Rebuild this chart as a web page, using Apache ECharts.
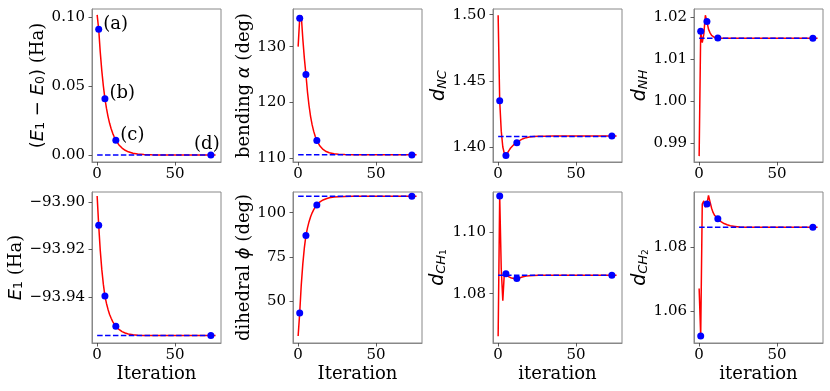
<!DOCTYPE html>
<html>
<head>
<meta charset="utf-8">
<script src="https://cdn.jsdelivr.net/npm/echarts@6/dist/echarts.min.js"></script>
<style>
html, body { margin: 0; padding: 0; background: #fff; }
#main { width: 830px; height: 391px; }
</style>
</head>
<body>
<div id="main"></div>
<script>
var chart = echarts.init(document.getElementById('main'));

// iteration steps of the optimisation path (red curve)
var iters = [0, 1, 2, 3, 4, 5, 6, 7, 8, 9, 10, 11, 12, 14, 16, 18, 20, 23, 26, 30, 35, 40, 50, 60, 76];

var gapE = [0.1017, 0.0913, 0.0747, 0.0611, 0.0500, 0.0409, 0.0338, 0.0279, 0.0230, 0.0190, 0.0157, 0.0130, 0.0107,
    0.0073, 0.0050, 0.0034, 0.0023, 0.0013, 0.0007, 0.0003, 0.0001, 0.00005, 0, 0, 0];
var bend = [130.0, 135.1, 135.6, 131.4, 127.9, 125.0, 121.85, 119.39, 117.46, 115.96, 114.79, 113.87, 113.15,
    112.16, 111.55, 111.18, 110.95, 110.77, 110.68, 110.63, 110.61, 110.6, 110.6, 110.6, 110.6];
var dNC = [1.4995, 1.435, 1.412, 1.400, 1.395, 1.3937, 1.3955, 1.3975, 1.3993, 1.4007, 1.4018, 1.4026, 1.4033,
    1.4051, 1.4063, 1.4071, 1.4076, 1.4079, 1.4081, 1.4082, 1.4083, 1.4083, 1.4083, 1.4083, 1.4083];
var dNH = [0.9869, 1.0167, 1.0140, 1.0160, 1.0205, 1.0190, 1.0172, 1.0163, 1.0157, 1.0154, 1.0152, 1.0151, 1.0151,
    1.0150, 1.0150, 1.0150, 1.0150, 1.0150, 1.0150, 1.0150, 1.0150, 1.0150, 1.0150, 1.0150, 1.0150];
var e1 = [-93.8976, -93.9099, -93.9204, -93.9285, -93.9347, -93.9396, -93.9427, -93.9452, -93.9473, -93.9489, -93.9503, -93.9514, -93.9523,
    -93.9536, -93.9545, -93.9551, -93.9555, -93.9558, -93.9560, -93.9561, -93.9562, -93.9562, -93.9562, -93.9562, -93.9562];
var dihed = [30.2, 43.2, 59.0, 71.0, 80.2, 87.1, 91.4, 94.9, 97.7, 99.9, 101.7, 103.2, 104.4,
    106.1, 107.2, 107.9, 108.4, 108.8, 109.05, 109.2, 109.3, 109.3, 109.3, 109.3, 109.3];
var dCH1 = [1.0662, 1.1117, 1.0880, 1.0777, 1.0870, 1.0865, 1.0857, 1.0855, 1.0852, 1.0850, 1.0849, 1.0848, 1.0849,
    1.0852, 1.0855, 1.0857, 1.0858, 1.0859, 1.0860, 1.0860, 1.0860, 1.0860, 1.0860, 1.0860, 1.0860];
var dCH2 = [1.0670, 1.0521, 1.0935, 1.0945, 1.0925, 1.0935, 1.0962, 1.0942, 1.0922, 1.0908, 1.0899, 1.0893, 1.0889,
    1.0880, 1.0874, 1.0870, 1.0867, 1.0865, 1.0863, 1.0862, 1.0862, 1.0862, 1.0862, 1.0862, 1.0862];

// sampled geometries (blue dots)
var ptIters = [1, 5, 12, 73];
var ptTags = ['(a)', '(b)', '(c)', '(d)'];
var gapPts = [0.0913, 0.0409, 0.0107, 0.0];
var bendPts = [135.1, 125.0, 113.15, 110.55];
var dNCPts = [1.435, 1.3937, 1.4033, 1.4083];
var dNHPts = [1.0167, 1.0190, 1.0151, 1.0150];
var e1Pts = [-93.9099, -93.9396, -93.9523, -93.9562];
var dihedPts = [43.2, 87.1, 104.4, 109.3];
var dCH1Pts = [1.1117, 1.0865, 1.0849, 1.0860];
var dCH2Pts = [1.0521, 1.0935, 1.0889, 1.0862];

// converged reference (dashed line)
var refIters = [0, 76];
var refs = [0, 110.6, 1.408, 1.015, -93.9562, 109.3, 1.086, 1.0862];

var xTicks = [0, 50];

var serif = 'DejaVu Serif';
var sans = 'DejaVu Sans';
var rich = {
    m: { fontFamily: sans, fontSize: 18, color: '#000' },
    i: { fontFamily: sans, fontStyle: 'italic', fontSize: 18, color: '#000' },
    di: { fontFamily: sans, fontStyle: 'italic', fontSize: 19, color: '#000' },
    s: { fontFamily: sans, fontSize: 12.5, color: '#000', verticalAlign: 'bottom', lineHeight: 12 },
    si: { fontFamily: sans, fontStyle: 'italic', fontSize: 13, color: '#000', verticalAlign: 'bottom', lineHeight: 12 },
    ss: { fontFamily: sans, fontSize: 9, color: '#000', verticalAlign: 'bottom', lineHeight: 6 }
};

var panels = [
    { l: 92, t: 9, h: 153, y: gapE, p: gapPts, min: -0.0051, max: 0.106, ticks: [0, 0.05, 0.1], dec: 2,
      name: '{m|(}{i|E}{s|1}{m| − }{i|E}{s|0}{m|)} (Ha)', gap: 39 },
    { l: 293, t: 9, h: 153, y: bend, p: bendPts, min: 109.3, max: 136.75, ticks: [110, 120, 130], dec: 0,
      name: 'bending {i|α} (deg)', gap: 38 },
    { l: 493, t: 9, h: 153, y: dNC, p: dNCPts, min: 1.3887, max: 1.5043, ticks: [1.40, 1.45, 1.50], dec: 2,
      name: '{di|d}{si|NC}', gap: 40 },
    { l: 694, t: 9, h: 153, y: dNH, p: dNHPts, min: 0.9855, max: 1.022, ticks: [0.99, 1.00, 1.01, 1.02], dec: 2,
      name: '{di|d}{si|NH}', gap: 40 },
    { l: 92, t: 192, h: 151, y: e1, p: e1Pts, min: -93.9593, max: -93.8959, ticks: [-93.94, -93.92, -93.90], dec: 2,
      name: '{i|E}{s|1} (Ha)', gap: 66, xname: 'Iteration' },
    { l: 293, t: 192, h: 151, y: dihed, p: dihedPts, min: 26.2, max: 111.7, ticks: [50, 75, 100], dec: 0,
      name: 'dihedral {i|ϕ} (deg)', gap: 38, xname: 'Iteration' },
    { l: 493, t: 192, h: 151, y: dCH1, p: dCH1Pts, min: 1.064, max: 1.113, ticks: [1.08, 1.10], dec: 2,
      name: '{di|d}{si|CH}{ss|1}', gap: 45, xname: 'iteration' },
    { l: 694, t: 192, h: 151, y: dCH2, p: dCH2Pts, min: 1.0499, max: 1.0973, ticks: [1.06, 1.08], dec: 2,
      name: '{di|d}{si|CH}{ss|2}', gap: 42, xname: 'iteration' }
];

function pairs(xs, ys) {
    return xs.map(function (x, k) { return [x, ys[k]]; });
}

var grids = [], xAxes = [], yAxes = [], series = [];

panels.forEach(function (p, i) {
    grids.push({
        left: p.l, top: p.t, width: 129, height: p.h,
        show: true, borderColor: '#888', borderWidth: 1, backgroundColor: 'transparent'
    });
    xAxes.push({
        type: 'value', gridIndex: i, min: -3.3, max: 79.5,
        name: p.xname || '', nameLocation: 'middle', nameGap: 22,
        nameTextStyle: { fontFamily: serif, fontSize: 18, color: '#000' },
        axisLine: { show: true, onZero: false, lineStyle: { color: '#888', width: 1 } },
        axisTick: { show: true, length: 3.5, customValues: xTicks, lineStyle: { color: '#333', width: 0.8 } },
        axisLabel: { customValues: xTicks, fontFamily: serif, fontSize: 15, color: '#000', margin: 5 },
        splitLine: { show: false }
    });
    yAxes.push({
        type: 'value', gridIndex: i, min: p.min, max: p.max,
        name: p.name, nameLocation: 'middle', nameGap: p.gap,
        nameTextStyle: { fontFamily: serif, fontSize: 18, color: '#000', rich: rich },
        axisLine: { show: true, onZero: false, lineStyle: { color: '#888', width: 1 } },
        axisTick: { show: true, length: 3.5, customValues: p.ticks, lineStyle: { color: '#333', width: 0.8 } },
        axisLabel: {
            customValues: p.ticks, fontFamily: serif, fontSize: 15, color: '#000', margin: 7,
            formatter: (function (d) {
                return function (v) { return v.toFixed(d).replace('-', '−'); };
            })(p.dec)
        },
        splitLine: { show: false }
    });

    series.push({
        type: 'line', xAxisIndex: i, yAxisIndex: i,
        data: pairs(iters, p.y), showSymbol: false, symbol: 'none',
        lineStyle: { color: '#ff0000', width: 1.5 }, z: 2, animation: false
    });
    series.push({
        type: 'line', xAxisIndex: i, yAxisIndex: i,
        data: pairs(refIters, [refs[i], refs[i]]), showSymbol: false, symbol: 'none',
        lineStyle: { color: '#0000ff', width: 1.5, type: [5.5, 2.4] }, z: 3, animation: false
    });

    var dots = pairs(ptIters, p.p);
    if (i === 0) {
        dots = dots.map(function (d, k) {
            var lab = { show: true, formatter: ptTags[k], fontFamily: serif, fontSize: 18, color: '#000', opacity: 1 };
            if (k < 3) {
                lab.position = 'right'; lab.distance = 1; lab.offset = [0, -5];
            } else {
                lab.position = 'top'; lab.distance = 1; lab.offset = [-4, 3];
            }
            return { value: d, label: lab };
        });
    }
    series.push({
        type: 'scatter', xAxisIndex: i, yAxisIndex: i,
        data: dots, symbolSize: 7, itemStyle: { color: '#0000ff', opacity: 1 },
        z: 4, animation: false
    });
});

chart.setOption({
    animation: false,
    grid: grids,
    xAxis: xAxes,
    yAxis: yAxes,
    series: series
});
</script>
</body>
</html>
